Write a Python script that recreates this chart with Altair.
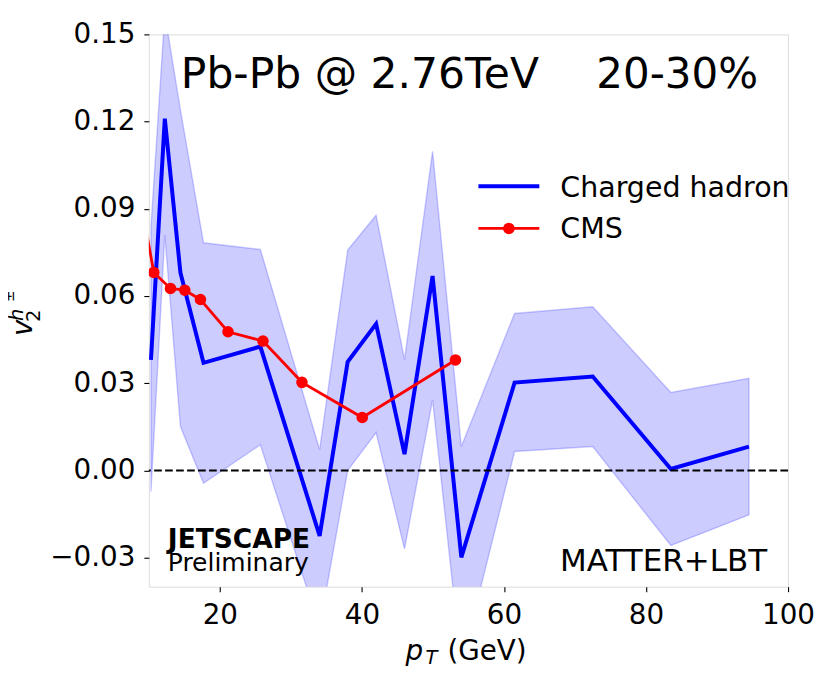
import altair as alt
import pandas as pd

# ---- data ----
blue_x = [10.3, 12.25, 14.45, 17.7, 25.7, 34.05, 38.0, 42.0, 46.0, 49.95, 54.0, 61.5, 72.5, 83.5, 94.5]
blue_y = [0.038, 0.121, 0.068, 0.037, 0.0426, -0.0225, 0.0374, 0.0504, 0.0056, 0.0669, -0.0299, 0.0302, 0.0323, 0.0005, 0.0082]
band_hi = [0.0838, 0.157, 0.124, 0.0783, 0.076, 0.0071, 0.0758, 0.0878, 0.038, 0.1098, 0.0082, 0.054, 0.0563, 0.0268, 0.0317]
band_lo = [-0.0073, 0.081, 0.0151, -0.0044, 0.0088, -0.054, 0.0, 0.013, -0.027, 0.0243, -0.067, 0.0065, 0.0082, -0.0258, -0.0153]

cms_x = [9.0, 10.7, 13.05, 15.06, 17.27, 21.15, 26.07, 31.56, 40.05, 53.17]
cms_y = [0.091, 0.0681, 0.0626, 0.062, 0.0588, 0.0477, 0.0445, 0.0303, 0.0182, 0.038]

x_ticks = [20, 40, 60, 80, 100]
y_ticks = [-0.03, 0.0, 0.03, 0.06, 0.09, 0.12, 0.15]

W, H = 640, 553
FONT = "DejaVu Sans"
BLUE = "#0000ff"
RED = "#ff0000"

blue_df = pd.DataFrame({"x": blue_x, "y": blue_y, "lo": band_lo, "hi": band_hi})
cms_df = pd.DataFrame({"x": cms_x, "y": cms_y})
zero_df = pd.DataFrame({"y": [0.0]})

xs = alt.Scale(domain=[10, 100], nice=False, zero=False)
ys = alt.Scale(domain=[-0.04, 0.15], nice=False, zero=False)

xaxis = alt.Axis(values=x_ticks, format="d", title=None, grid=False, domain=False,
                 labelFontSize=27.8, labelFont=FONT, labelColor="black",
                 tickColor="black", tickSize=5, tickWidth=1.1, labelPadding=10,
                 labelFlush=False, labelOverlap=False)
yaxis = alt.Axis(values=y_ticks, title=None, grid=False, domain=False,
                 labelExpr="replace(format(datum.value, '.2f'), '-', '\u2212')",
                 labelFontSize=27.8, labelFont=FONT, labelColor="black",
                 tickColor="black", tickSize=5, tickWidth=1.1, labelPadding=9,
                 labelFlush=False, labelOverlap=False)

band = alt.Chart(blue_df).mark_area(
    clip=True, fill=BLUE, fillOpacity=0.2, stroke=BLUE, strokeOpacity=0.2, strokeWidth=1.4
).encode(
    x=alt.X("x:Q", scale=xs, axis=xaxis),
    y=alt.Y("lo:Q", scale=ys, axis=yaxis),
    y2="hi:Q",
)

blue_line = alt.Chart(blue_df).mark_line(clip=True, color=BLUE, strokeWidth=4).encode(
    x=alt.X("x:Q", scale=xs), y=alt.Y("y:Q", scale=ys)
)

zero_rule = alt.Chart(zero_df).mark_rule(color="black", strokeWidth=2, strokeDash=[7.7, 3.3]).encode(
    y=alt.Y("y:Q", scale=ys)
)

cms_line = alt.Chart(cms_df).mark_line(clip=True, color=RED, strokeWidth=2.8).encode(
    x=alt.X("x:Q", scale=xs), y=alt.Y("y:Q", scale=ys)
)
cms_pts = alt.Chart(cms_df).mark_circle(clip=True, color=RED, opacity=1, size=135).encode(
    x=alt.X("x:Q", scale=xs), y=alt.Y("y:Q", scale=ys)
)


def label(text, x, y, size, align="left", angle=0, style="normal", weight="normal"):
    kw = dict(align=align, baseline="alphabetic", font=FONT, fontSize=size,
              fontStyle=style, fontWeight=weight, color="black")
    if angle:
        kw["angle"] = angle
    return alt.Chart(pd.DataFrame({"t": [text]})).mark_text(**kw).encode(
        text="t:N", x=alt.value(x), y=alt.value(y)
    )


# legend (drawn by hand, matplotlib style)
leg_blue = alt.Chart(pd.DataFrame({"a": [0]})).mark_rule(color=BLUE, strokeWidth=4).encode(
    x=alt.value(330), x2=alt.value(391), y=alt.value(152)
)
leg_red = alt.Chart(pd.DataFrame({"a": [0]})).mark_rule(color=RED, strokeWidth=2.8).encode(
    x=alt.value(330), x2=alt.value(391), y=alt.value(194.3)
)
leg_dot = alt.Chart(pd.DataFrame({"a": [0]})).mark_circle(color=RED, opacity=1, size=135).encode(
    x=alt.value(360.5), y=alt.value(194.3)
)

texts = [
    label("Pb-Pb @ 2.76TeV", 32, 54, 42.5),
    label("20-30%", 448, 54, 42),
    label("Charged hadron", 412, 162.7, 28.5),
    label("CMS", 412, 204, 28.5),
    label("JETSCAPE", 19, 514, 26.5, weight="bold"),
    label("Preliminary", 19, 537.7, 25),
    label("MATTER+LBT", 619, 537.7, 31, align="right"),
    # x-axis title  p_T (GeV)
    label("p", 257, 626, 27.8, style="italic"),
    label("T", 277, 630, 19.5, style="italic"),
    label("(GeV)", 299, 626, 27.8),
    # y-axis title  v_2^{h^±}
    label("v", -117, 302, 27.8, angle=270, style="italic"),
    label("2", -109, 288, 19.5, angle=270),
    label("h", -126, 287, 19.5, angle=270, style="italic"),
    label("\u00b1", -134.5, 268, 13.6, angle=270),
]

chart = alt.layer(
    band, blue_line, zero_rule, cms_line, cms_pts, leg_blue, leg_red, leg_dot, *texts
).properties(
    width=W, height=H,
    autosize=alt.AutoSizeParams(type="none"),
    padding={"left": 141, "top": 26, "right": 34, "bottom": 80},
).configure_view(
    stroke="black", strokeWidth=1.1
).configure(background="white")

chart.save("out.html", embed_options={"renderer": "svg", "actions": False})
